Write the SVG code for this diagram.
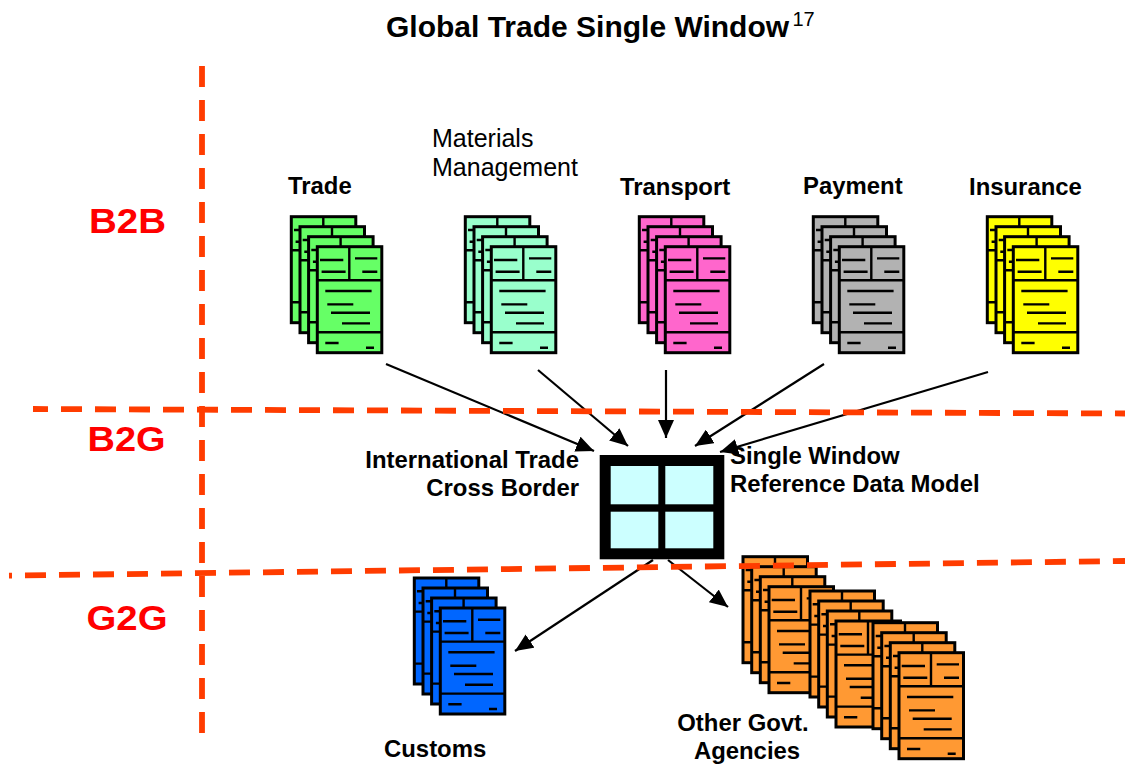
<svg xmlns="http://www.w3.org/2000/svg" xmlns:xlink="http://www.w3.org/1999/xlink" width="1125" height="764" viewBox="0 0 1125 764">
<style>
.pg rect{stroke:#000;stroke-width:3}
.pg path{fill:none;stroke:#000;stroke-width:2.4}
.t{font-family:"Liberation Sans",Arial,sans-serif;fill:#000}
.b{font-weight:bold;font-size:23.9px}
.r{font-size:25px}
.z{font-family:"Liberation Sans",Arial,sans-serif;font-weight:bold;font-size:35px;fill:#f00}
.d{fill:none;stroke:#ff3c00;stroke-width:5.8;stroke-dasharray:21 13}
.a{stroke:#000;stroke-width:2.2;fill:none;marker-end:url(#ah)}
.green{fill:#66ff66}.mint{fill:#99ffcc}.pink{fill:#ff66cc}.gray{fill:#b2b2b2}.yellow{fill:#ffff00}.blue{fill:#0066ff}.orange{fill:#ff9933}
</style>
<defs>
<marker id="ah" markerUnits="userSpaceOnUse" markerWidth="20" markerHeight="16" refX="18" refY="8" orient="auto"><path d="M0 0L18 8L0 16Z" fill="#000"/></marker>
<g id="page" class="pg">
<rect width="64.5" height="106" fill="inherit"/>
<path d="M32 0V33.6M0 33.6H64.5M0 85.6H64.5M2.7 13.3H26M4.3 25H28.3M37.7 11.7H60M45 25H60M8 44.3H54.3M10 57.7H36M13.7 66H52.7M24.7 76.7H52.7M8 96.3H21.3M48.7 101H56.7"/>
</g>
<g id="stack">
<use xlink:href="#page" href="#page" x="-26" y="-30"/>
<use xlink:href="#page" href="#page" x="-17.3" y="-20"/>
<use xlink:href="#page" href="#page" x="-8.7" y="-10"/>
<use xlink:href="#page" href="#page"/>
</g>
</defs>
<rect width="1125" height="764" fill="#fff"/>
<g id="title"><text class="t" x="386" y="37" font-size="30" font-weight="bold">Global Trade Single Window</text><text class="t" x="792.5" y="26" font-size="20">17</text></g>
<g id="zone-labels"><text class="z" x="89" y="233" textLength="77" lengthAdjust="spacingAndGlyphs">B2B</text><text class="z" x="87.5" y="451" textLength="78" lengthAdjust="spacingAndGlyphs">B2G</text><text class="z" x="86.5" y="630" textLength="81" lengthAdjust="spacingAndGlyphs">G2G</text></g>
<g id="node-trade"><use xlink:href="#stack" href="#stack" class="green" x="317.3" y="246.7"/><text class="t b" x="288" y="194">Trade</text></g>
<g id="node-materials"><use xlink:href="#stack" href="#stack" class="mint" x="491.3" y="246.7"/><text class="t r" x="432" y="147">Materials</text><text class="t r" x="432" y="176">Management</text></g>
<g id="node-transport"><use xlink:href="#stack" href="#stack" class="pink" x="665.3" y="246.7"/><text class="t b" x="620" y="195">Transport</text></g>
<g id="node-payment"><use xlink:href="#stack" href="#stack" class="gray" x="839.3" y="246.7"/><text class="t b" x="803" y="194">Payment</text></g>
<g id="node-insurance"><use xlink:href="#stack" href="#stack" class="yellow" x="1013.3" y="246.7"/><text class="t b" x="969" y="195">Insurance</text></g>
<g id="node-customs"><use xlink:href="#stack" href="#stack" class="blue" x="440.3" y="608"/><text class="t b" x="384" y="757">Customs</text></g>
<g id="node-agencies"><use xlink:href="#stack" href="#stack" class="orange" x="769" y="586.7"/><use xlink:href="#stack" href="#stack" class="orange" x="836" y="621"/><use xlink:href="#stack" href="#stack" class="orange" x="899" y="652.7"/><text class="t b" x="743" y="731" text-anchor="middle">Other Govt.</text><text class="t b" x="747" y="759" text-anchor="middle">Agencies</text></g>
<g id="node-window"><rect x="599.7" y="455" width="124.6" height="104.3" fill="#000"/><g fill="#ccffff"><rect x="610.7" y="466" width="47.6" height="38.3"/><rect x="665.3" y="466" width="48" height="38.3"/><rect x="610.7" y="511.7" width="47.6" height="36.6"/><rect x="665.3" y="511.7" width="48" height="36.6"/></g><text class="t b" x="579" y="468" text-anchor="end">International Trade</text><text class="t b" x="579" y="496" text-anchor="end">Cross Border</text><text class="t b" x="730" y="464">Single Window</text><text class="t b" x="730" y="492">Reference Data Model</text></g>
<g id="connectors"><path class="a" d="M386 364L594 451"/><path class="a" d="M538 370L628 446"/><path class="a" d="M666 370V438"/><path class="a" d="M824 364L695 446"/><path class="a" d="M988 372L720 452"/><path class="a" d="M653 560L515 651"/><path class="a" d="M668 560L728 607"/></g>
<g id="dividers"><path class="d" d="M202 66V735"/><path class="d" stroke-dashoffset="6" d="M33 409L1125 413.5"/><path class="d" stroke-dashoffset="18" d="M9 575.6L1125 561"/></g>
</svg>
